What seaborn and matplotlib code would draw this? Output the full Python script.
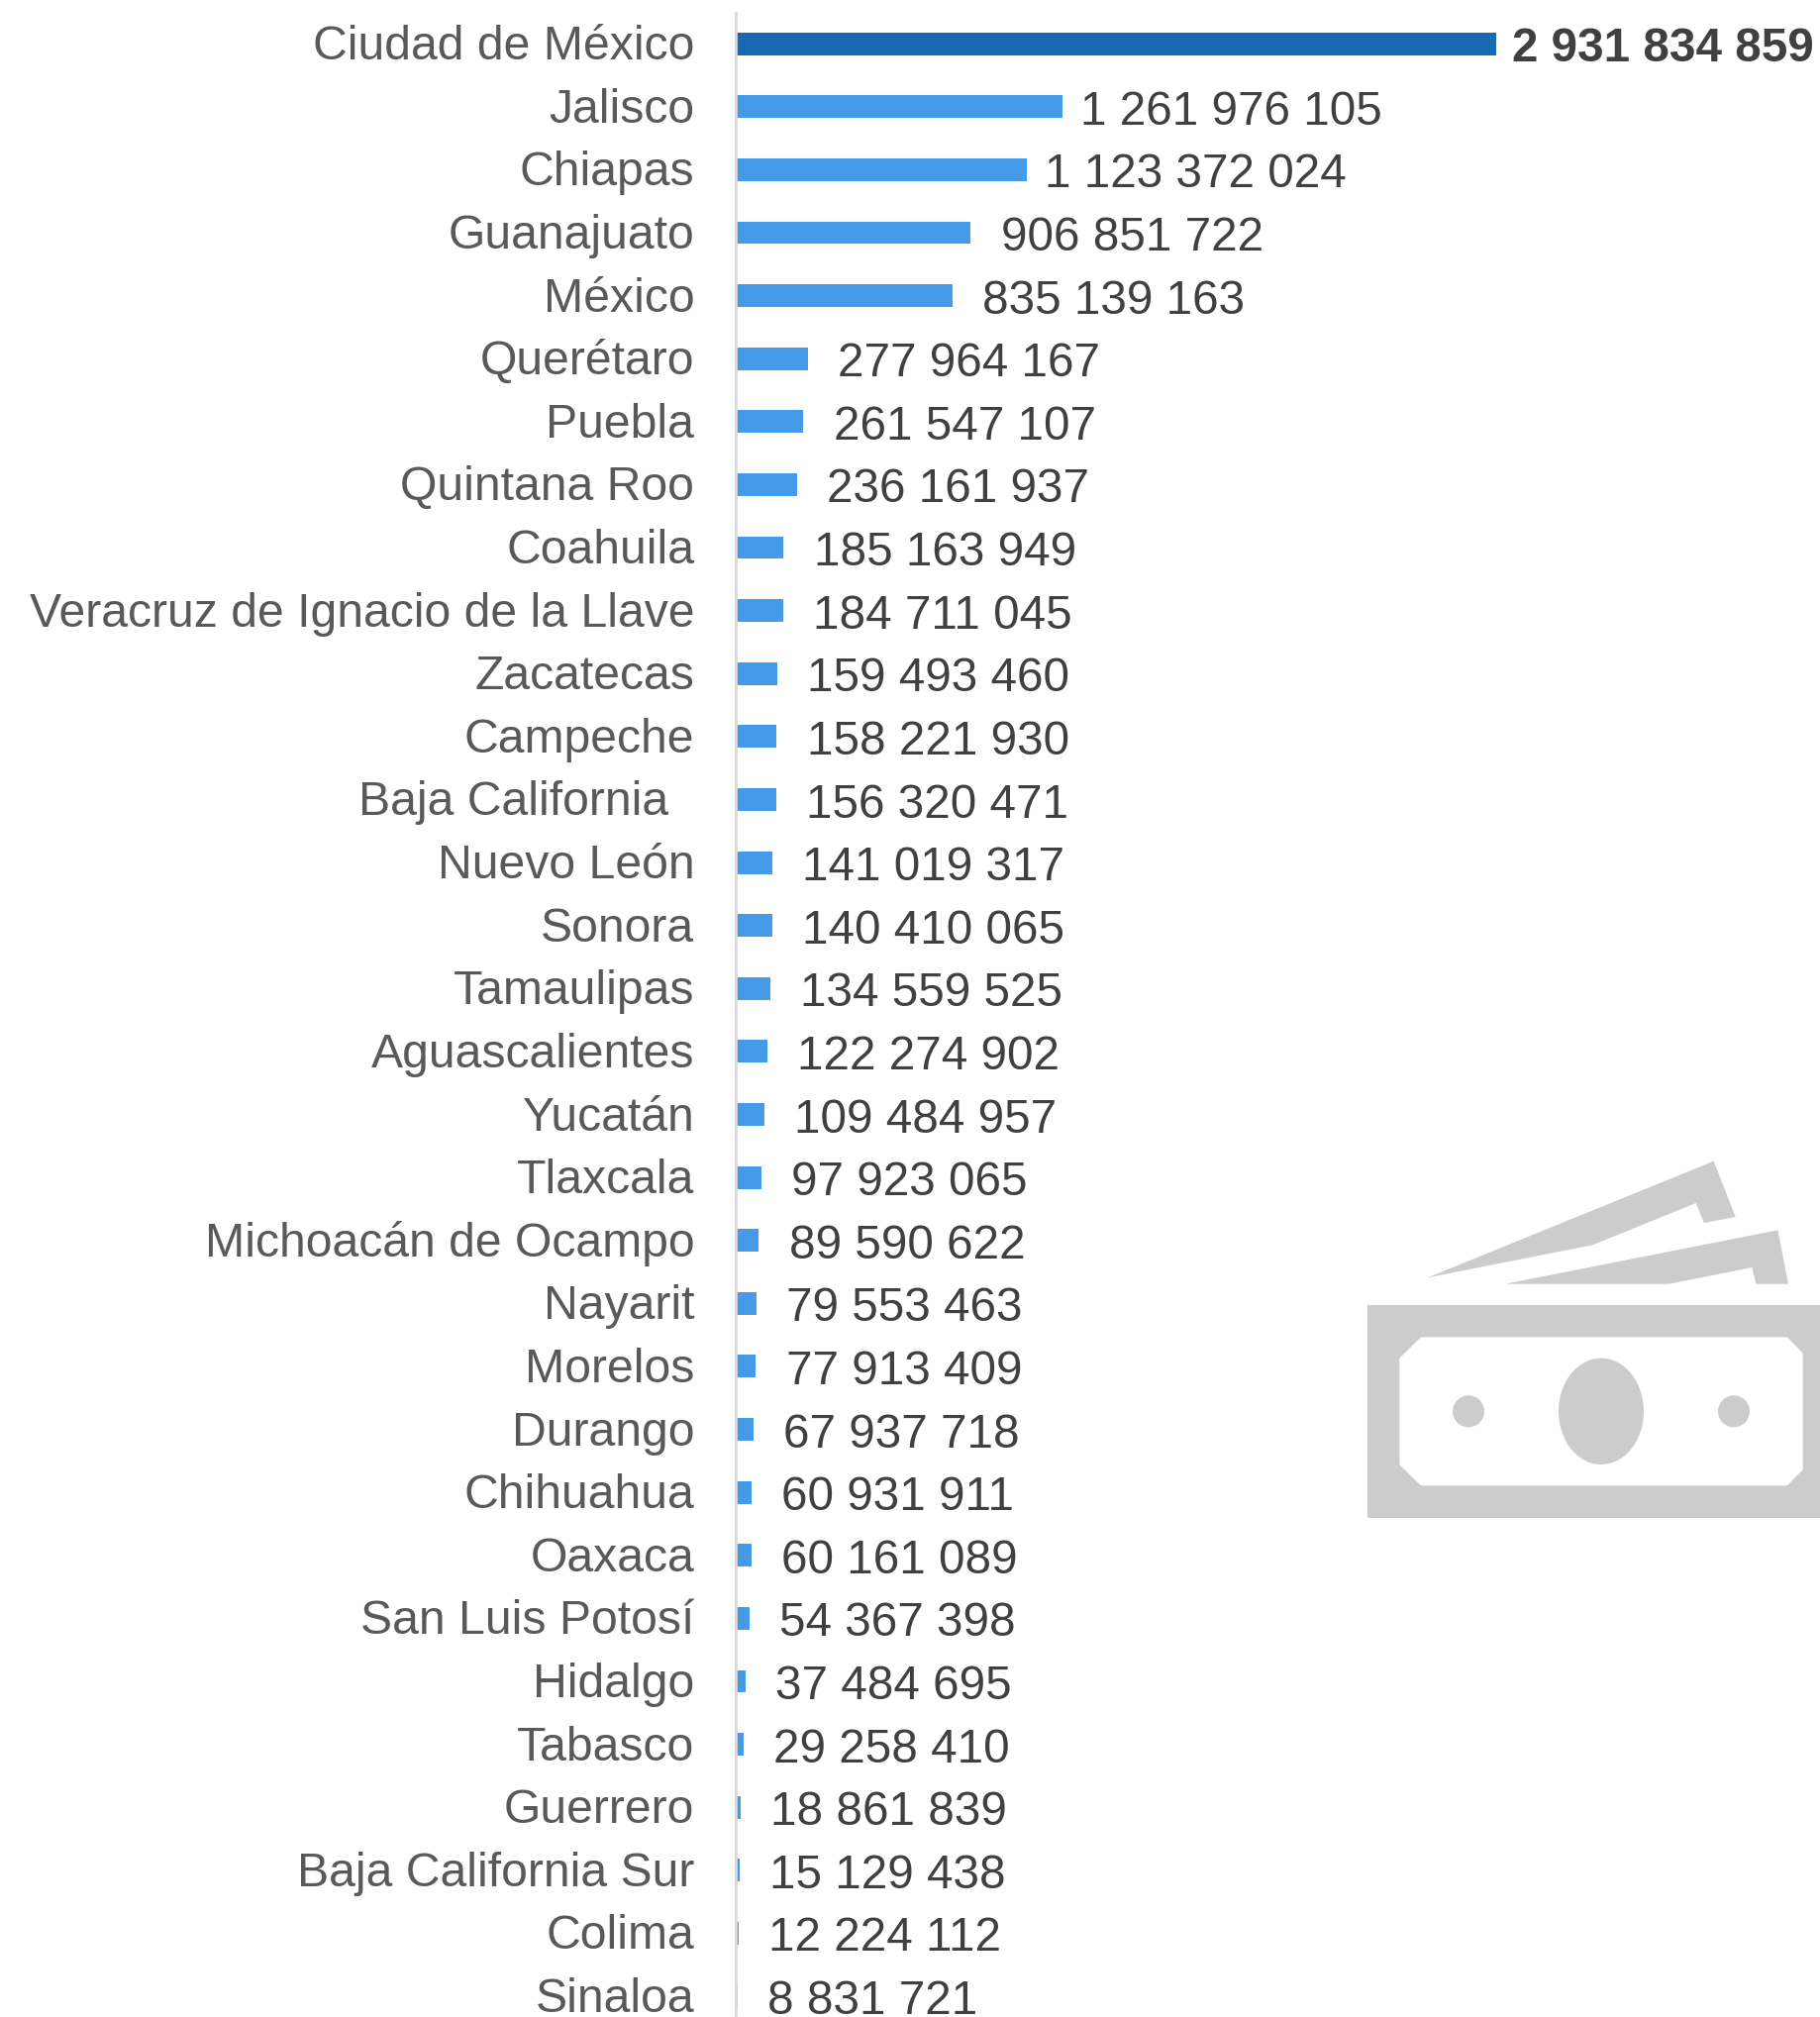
import matplotlib
matplotlib.use('Agg')
import matplotlib.pyplot as plt
from matplotlib.patches import Polygon, Ellipse, Rectangle
from matplotlib.transforms import Affine2D, ScaledTranslation
import pandas as pd
import seaborn as sns

estados = ['Ciudad de México', 'Jalisco', 'Chiapas', 'Guanajuato', 'México', 'Querétaro', 'Puebla',
           'Quintana Roo', 'Coahuila', 'Veracruz de Ignacio de la Llave', 'Zacatecas', 'Campeche',
           'Baja California', 'Nuevo León', 'Sonora', 'Tamaulipas', 'Aguascalientes', 'Yucatán',
           'Tlaxcala', 'Michoacán de Ocampo', 'Nayarit', 'Morelos', 'Durango', 'Chihuahua', 'Oaxaca',
           'San Luis Potosí', 'Hidalgo', 'Tabasco', 'Guerrero', 'Baja California Sur', 'Colima', 'Sinaloa']
valores = [2931834859, 1261976105, 1123372024, 906851722, 835139163, 277964167, 261547107,
           236161937, 185163949, 184711045, 159493460, 158221930,
           156320471, 141019317, 140410065, 134559525, 122274902, 109484957,
           97923065, 89590622, 79553463, 77913409, 67937718, 60931911, 60161089,
           54367398, 37484695, 29258410, 18861839, 15129438, 12224112, 8831721]

W, H = 1838, 2037
GRIS = '#CCCCCC'
X0 = 743.0

df = pd.DataFrame({'estado': estados, 'valor': valores})
df['grupo'] = ['top' if i == 0 else 'resto' for i in range(len(df))]

plt.rcParams['font.family'] = ['Liberation Sans', 'DejaVu Sans']
fig = plt.figure(figsize=(W / 100, H / 100), dpi=100)
ax = fig.add_axes([X0 / W, 0, (W - X0) / W, (H - 13) / H])

sns.barplot(data=df, x='valor', y='estado', hue='grupo', dodge=False, legend=False, width=0.36,
            saturation=1, palette={'top': '#1769B2', 'resto': '#469BE8'}, ax=ax, clip_on=False)

# px per unit from the longest bar
ax.set_xlim(0, (W - X0) / 767.5 * valores[0])
ax.set_ylim(31.33, -0.49)

sns.despine(ax=ax, top=True, right=True, bottom=True)
ax.spines['left'].set_color('#D9D9D9')
ax.spines['left'].set_linewidth(2)
ax.set_xlabel('')
ax.set_ylabel('')
ax.set_xticks([])
ax.tick_params(axis='y', length=0, pad=30, labelsize=34.7, labelcolor='#595959')

# labels sit about a px higher, Baja California a bit to the left
for lab in ax.get_yticklabels():
    dx = -26 if lab.get_text() == 'Baja California' else 0
    lab.set_transform(lab.get_transform() + ScaledTranslation(dx / 100, 1.5 / 100, fig.dpi_scale_trans))

for i, v in enumerate(valores):
    txt = f'{v:,}'.replace(',', ' ')
    if i == 0:
        pad = 12
    elif i < 3:
        pad = 13
    else:
        pad = 21.7
    ax.annotate(txt, (v, i), xytext=(pad, -4), textcoords='offset points', va='center', ha='left',
                fontsize=34.3, color='#404040', fontweight='bold' if i == 0 else 'normal',
                annotation_clip=False)

# icon of the bills, in zoom px of the reference
icono = Affine2D().scale(1 / 3, -1 / 3).translate(1340, H - 1140) + Affine2D().scale(1 / W, 1 / H) + fig.transFigure


def pieza(p, color=GRIS):
    p.set(facecolor=color, edgecolor='none', transform=icono, clip_on=False)
    fig.add_artist(p)


pieza(Polygon([(305, 451), (1172, 98), (1238, 267), (1143, 285), (1118, 225), (805, 352)]))
pieza(Polygon([(540, 470), (1366, 307), (1398, 470), (1300, 470), (1288, 420), (1037, 470)]))
pieza(Rectangle((124, 535), 1500, 643))
pieza(Polygon([(285, 631), (1395, 631), (1442, 680), (1442, 1033), (1395, 1081), (285, 1081),
               (220, 1018), (220, 695)]), 'white')
pieza(Ellipse((831, 856), 258, 322))
pieza(Ellipse((429, 856), 96, 96))
pieza(Ellipse((1233, 856), 96, 96))

fig.savefig('out.png', dpi=100)
